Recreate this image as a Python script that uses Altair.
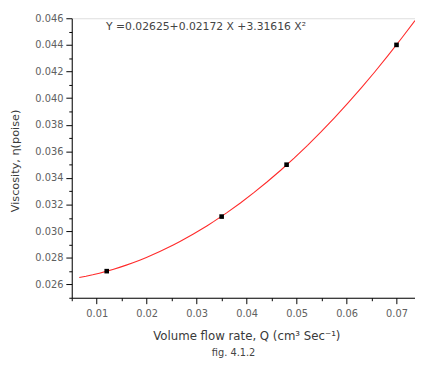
import altair as alt
import pandas as pd

# measured points
q_vals = [0.012, 0.035, 0.048, 0.070]
visc_vals = [0.0270, 0.0311, 0.0350, 0.0440]

x_major = [0.01, 0.02, 0.03, 0.04, 0.05, 0.06, 0.07]
x_minor = [0.005, 0.015, 0.025, 0.035, 0.045, 0.055, 0.065]
y_major = [0.026, 0.028, 0.030, 0.032, 0.034, 0.036, 0.038, 0.040, 0.042, 0.044, 0.046]
y_minor = [0.025, 0.027, 0.029, 0.031, 0.033, 0.035, 0.037, 0.039, 0.041, 0.043, 0.045]

x_domain = [0.005, 0.0737]
y_domain = [0.025, 0.046]
fit_extent = [0.0065, 0.0737]

equation = "Y =0.02625+0.02172 X +3.31616 X²"
x_title = "Volume flow rate, Q (cm³ Sec⁻¹)"
y_title = "Viscosity,  η(poise)"
caption = "fig. 4.1.2"

df = pd.DataFrame({"Q": q_vals, "V": visc_vals})

FONT = "DejaVu Sans"
LABEL_COLOR = "#606060"
TITLE_COLOR = "#3a3a3a"

xs = alt.Scale(domain=x_domain, nice=False, zero=False)
ys = alt.Scale(domain=y_domain, nice=False, zero=False)

base = alt.Chart(df)

fit = base.transform_regression(
    "Q", "V", method="poly", order=2, extent=fit_extent
).mark_line(color="#ff2a2a", strokeWidth=1.1, clip=True).encode(
    x=alt.X("Q:Q", scale=xs, axis=alt.Axis(
        values=x_major, format=".2f", title=x_title, orient="bottom",
        tickSize=6, tickColor="black", domainColor="black", grid=False,
        labelFont=FONT, labelFontSize=10, labelColor=LABEL_COLOR, labelPadding=5,
        titleFont=FONT, titleFontSize=12, titleFontWeight="normal", titleColor=TITLE_COLOR,
        titlePadding=13, titleX=178)),
    y=alt.Y("V:Q", scale=ys, axis=alt.Axis(
        values=y_major, format=".3f", title=y_title, orient="left",
        tickSize=6, tickColor="black", domainColor="black", grid=False,
        labelFont=FONT, labelFontSize=10, labelColor=LABEL_COLOR, labelPadding=3,
        titleFont=FONT, titleFontSize=11.5, titleFontWeight="normal", titleColor=TITLE_COLOR,
        titleX=-57, titleY=145, titleBaseline="middle", titleAngle=-90)),
)

pts = base.mark_square(size=22, color="black", opacity=1).encode(
    x=alt.X("Q:Q", scale=xs, axis=None),
    y=alt.Y("V:Q", scale=ys, axis=None),
)

minor_x = base.mark_point(opacity=0).encode(
    x=alt.X("Q:Q", scale=xs, axis=alt.Axis(
        values=x_minor, labels=False, title=None, orient="bottom", tickSize=3,
        tickColor="black", domain=False, grid=False)),
)
minor_y = base.mark_point(opacity=0).encode(
    y=alt.Y("V:Q", scale=ys, axis=alt.Axis(
        values=y_minor, labels=False, title=None, orient="left", tickSize=3,
        tickColor="black", domain=False, grid=False)),
)

eq = alt.Chart(pd.DataFrame({"t": [equation]})).mark_text(
    align="left", baseline="middle", font=FONT, fontSize=11, color="#444444"
).encode(x=alt.value(35), y=alt.value(9), text="t:N")

cap = alt.Chart(pd.DataFrame({"t": [caption]})).mark_text(
    align="center", baseline="alphabetic", font=FONT, fontSize=10, color="#444444"
).encode(x=alt.value(165), y=alt.value(344), text="t:N")

chart = alt.layer(fit, pts, minor_x, minor_y, eq, cap).resolve_scale(
    x="independent", y="independent"
).properties(
    width=350, height=285,
    autosize=alt.AutoSizeParams(type="none"),
    padding={"left": 65, "top": 7, "right": 0, "bottom": 61},
).configure_view(stroke=None).configure(background="white")

chart.save("out.html", embed_options={"renderer": "svg", "actions": False})
